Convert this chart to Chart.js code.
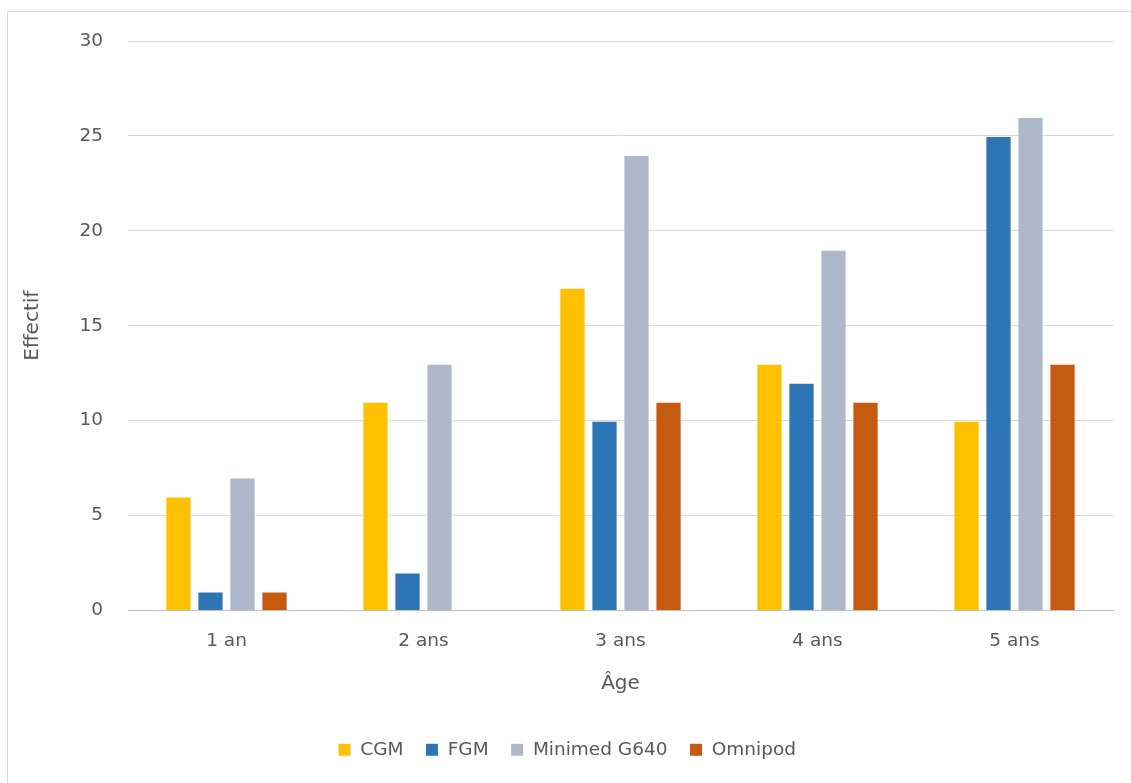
<!DOCTYPE html>
<html>
<head>
<meta charset="utf-8">
<script src="https://cdn.jsdelivr.net/npm/chart.js@4/dist/chart.umd.min.js"></script>
<style>
  html, body { margin: 0; padding: 0; background: #fff; }
  #wrap { position: relative; width: 1131px; height: 783px; }
  #frame { position: absolute; left: 7px; top: 11px; width: 1130px; height: 780px; border: 1px solid #d9d9d9; pointer-events: none; }
</style>
</head>
<body>
<div id="wrap">
  <canvas id="ageChart" width="1131" height="783"></canvas>
  <div id="frame"></div>
</div>
<script>
// --- data ---
const ageLabels = ['1 an', '2 ans', '3 ans', '4 ans', '5 ans'];
const cgmValues      = [6, 11, 17, 13, 10];
const fgmValues      = [1, 2, 10, 12, 25];
const minimedValues  = [7, 13, 24, 19, 26];
const omnipodValues  = [1, 0, 11, 11, 13];

const labelColor = '#595959';
const gridColor = '#d9d9d9';
const fontFamily = "'DejaVu Sans', sans-serif";

function barSeries(label, data, color) {
  return {
    label,
    data,
    backgroundColor: color,
    borderColor: '#ffffff',
    borderWidth: 1,
    categoryPercentage: 0.65,
    barPercentage: 0.82,
  };
}

const ctx = document.getElementById('ageChart').getContext('2d');
new Chart(ctx, {
  type: 'bar',
  data: {
    labels: ageLabels,
    datasets: [
      barSeries('CGM', cgmValues, '#ffc000'),
      barSeries('FGM', fgmValues, '#2e75b6'),
      barSeries('Minimed G640', minimedValues, '#adb9ca'),
      barSeries('Omnipod', omnipodValues, '#c55a11'),
    ],
  },
  options: {
    responsive: false,
    animation: false,
    devicePixelRatio: 1,
    layout: { padding: { top: 41, left: 21, right: 18, bottom: 14 } },
    plugins: {
      tooltip: { enabled: false },
      legend: {
        position: 'bottom',
        labels: {
          color: labelColor,
          font: { family: fontFamily, size: 18.5 },
          boxWidth: 13,
          boxHeight: 13,
          padding: 22,
        },
      },
    },
    scales: {
      x: {
        grid: { display: false, drawTicks: false },
        border: { display: true, color: '#bfbfbf', width: 1 },
        ticks: { color: labelColor, font: { family: fontFamily, size: 18.5 }, padding: 20 },
        title: { display: true, text: 'Âge', color: labelColor, font: { family: fontFamily, size: 20 }, padding: { top: 0, bottom: 23 } },
        afterFit(scale) { scale.height = 108; },
      },
      y: {
        min: 0,
        max: 30,
        grid: { color: gridColor, drawTicks: false },
        border: { display: false },
        ticks: { stepSize: 5, color: labelColor, font: { family: fontFamily, size: 18.5 }, padding: 25 },
        title: { display: true, text: 'Effectif', color: labelColor, font: { family: fontFamily, size: 20 }, padding: 0 },
        afterFit(scale) { scale.width = 107; },
      },
    },
  },
});
</script>
</body>
</html>
